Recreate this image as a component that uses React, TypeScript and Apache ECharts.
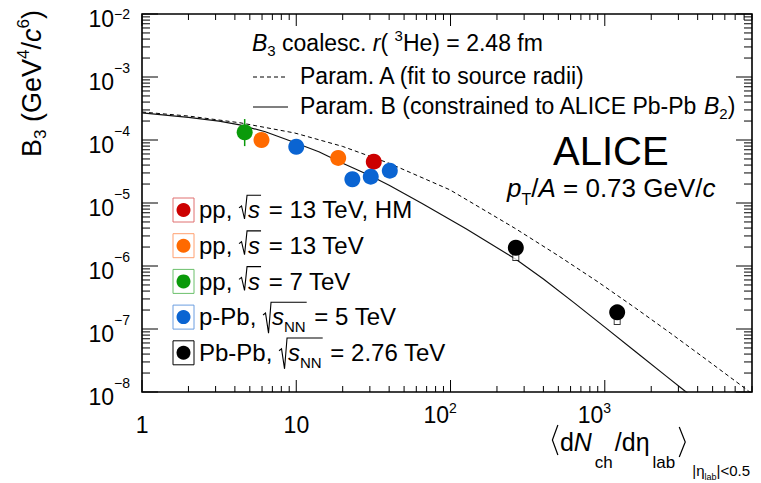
import React, { useEffect, useRef } from 'react';
import * as echarts from 'echarts';

const FONT = '"Liberation Sans", Arial, Helvetica, sans-serif';

const X_MIN = 1;
const X_MAX = 9000;
const Y_MIN = 1e-8;
const Y_MAX = 1e-2;

// tick labels
const xTickValues = [1, 10, 100, 1000];
const xTickBase = ['1', '10', '10', '10'];
const xTickSup = ['', '', '2', '3'];
const yTickExponents = [-8, -7, -6, -5, -4, -3, -2];
const minorMultipliers = [1, 2, 3, 4, 5, 6, 7, 8, 9];

// data points [dN/deta, B3]
const ppHM = [[31.8, 4.53e-5]];
const pp13 = [[5.95, 1.0e-4], [18.7, 5.2e-5]];
const pp7 = [[4.63, 1.33e-4]];
const pp7Err = [[4.63, 8.0e-5, 2.15e-4]];
const pPb = [[10.0, 7.8e-5], [23.1, 2.38e-5], [30.4, 2.62e-5], [40.4, 3.26e-5]];
const PbPb = [[265, 1.95e-6], [1203, 1.84e-7]];
const PbPbSyst = [[265, 1.39e-6], [1203, 1.34e-7]];

// model curves
const paramA = [
  [1, 2.78e-4], [2, 2.4e-4], [4.3, 1.88e-4], [9.8, 1.29e-4], [20, 7.9e-5], [40, 4.27e-5],
  [99, 1.62e-5], [261, 3.98e-6], [501, 1.45e-6], [902, 5.6e-7], [1585, 2.14e-7],
  [2680, 8.5e-8], [4467, 3.39e-8], [8090, 1.15e-8], [9000, 9.3e-9],
];
const paramB = [
  [1, 2.69e-4], [2, 2.29e-4], [3.16, 2.0e-4], [4.3, 1.74e-4], [6.3, 1.35e-4], [9, 9.8e-5],
  [14, 6.5e-5], [20, 4.27e-5], [30, 2.73e-5], [40, 1.91e-5], [65, 9.9e-6], [126, 3.91e-6],
  [261, 1.31e-6], [400, 6.22e-7], [631, 2.62e-7], [1000, 1.07e-7], [1585, 4.35e-8],
  [2512, 1.77e-8], [3400, 9.8e-9], [3600, 8.8e-9],
];

const legendPrefix = ['pp, ', 'pp, ', 'pp, ', 'p-Pb, ', 'Pb-Pb, '];
const legendSub = ['', '', '', 'NN', 'NN'];
const legendSuffix = [' = 13 TeV, HM', ' = 13 TeV', ' = 7 TeV', ' = 5 TeV', ' = 2.76 TeV'];
const seriesColors = ['#cc0000', '#ff6a00', '#0a9a0a', '#0a64d2', '#000000'];
const boxColors = ['#e07070', '#ffa070', '#6cc06c', '#6c9ee0', '#000000'];

type Seg = {
  t?: string; s?: number; bo?: number; i?: boolean;
  rad?: Seg[]; radDrop?: number; br?: 'l' | 'r'; gap?: number;
};

let ctx: CanvasRenderingContext2D | null = null;
function measure(t: string, size: number, italic?: boolean) {
  if (!ctx) ctx = document.createElement('canvas').getContext('2d');
  ctx!.font = `${italic ? 'italic ' : ''}${size}px ${FONT}`;
  return ctx!.measureText(t).width;
}

function textEl(t: string, x: number, y: number, size: number, italic: boolean | undefined, color: string) {
  return {
    type: 'text', x, y, silent: true,
    style: {
      text: t, font: `${italic ? 'italic ' : ''}${size}px ${FONT}`, fill: color,
      textAlign: 'left', textVerticalAlign: 'middle', align: 'left', verticalAlign: 'middle',
    },
  };
}

function build(segs: Seg[], x0: number, B: number, base: number, color: string, out: any[]): number {
  let x = x0;
  for (const sg of segs) {
    if (sg.gap) { x += sg.gap; continue; }
    if (sg.br === 'l') {
      out.push({ type: 'polyline', silent: true, shape: { points: [[x + 6, B - 26], [x + 0.5, B - 11], [x + 6, B + 4]] }, style: { stroke: color, lineWidth: 1.2, fill: null } });
      x += 8; continue;
    }
    if (sg.br === 'r') {
      out.push({ type: 'polyline', silent: true, shape: { points: [[x + 1, B - 24], [x + 7, B - 9], [x + 1, B + 6]] }, style: { stroke: color, lineWidth: 1.2, fill: null } });
      x += 8; continue;
    }
    if (sg.rad) {
      const sx = x;
      x += 9;
      x = build(sg.rad, x, B, base, color, out);
      const top = B - 0.95 * base;
      out.push({
        type: 'polyline', silent: true,
        shape: { points: [[sx, B - 0.42 * base], [sx + 2.5, B - 0.5 * base], [sx + 5.5, B + (sg.radDrop || 1)], [sx + 8, top], [x + 1, top]] },
        style: { stroke: color, lineWidth: 1.1, fill: null },
      });
      x += 2;
      continue;
    }
    const size = sg.s || base;
    out.push(textEl(sg.t || '', x, B + (sg.bo || 0) - 0.35 * size, size, sg.i, color));
    x += measure(sg.t || '', size, sg.i);
  }
  return x;
}

function buildGraphics() {
  const g: any[] = [];
  // header block
  build([{ t: 'B', i: true }, { t: '3', s: 15, bo: 5 }, { t: ' coalesc. ' }, { t: 'r', i: true }, { t: '( ' }, { t: '3', s: 15, bo: -10 }, { t: 'He) = 2.48 fm' }], 252, 51, 23, '#000', g);
  g.push({ type: 'line', silent: true, shape: { x1: 253, y1: 77, x2: 288, y2: 77 }, style: { stroke: '#000', lineWidth: 1, lineDash: [4, 3] } });
  build([{ t: 'Param. A (fit to source radii)' }], 300, 84, 23, '#000', g);
  g.push({ type: 'line', silent: true, shape: { x1: 253, y1: 107, x2: 288, y2: 107 }, style: { stroke: '#000', lineWidth: 1.2 } });
  build([{ t: 'Param. B (constrained to ALICE Pb-Pb ' }, { t: 'B', i: true }, { t: '2', s: 15, bo: 5 }, { t: ')' }], 300, 114, 23, '#000', g);
  build([{ t: 'ALICE' }], 553, 165, 40, '#000', g);
  build([{ t: 'p', i: true }, { t: 'T', s: 16, bo: 8 }, { t: '/' }, { t: 'A', i: true }, { t: ' = 0.73 GeV/' }, { t: 'c', i: true }], 507, 197, 26, '#000', g);

  // legend
  for (let k = 0; k < legendPrefix.length; k++) {
    const y = 210 + k * 35.7;
    g.push({ type: 'rect', silent: true, shape: { x: 173, y: y - 12, width: 21, height: 24 }, style: { stroke: boxColors[k], fill: null, lineWidth: 1 } });
    g.push({ type: 'circle', silent: true, shape: { cx: 183.5, cy: y, r: 7 }, style: { fill: seriesColors[k] } });
    const inner: Seg[] = [{ t: 's', i: true }];
    if (legendSub[k]) inner.push({ t: legendSub[k], s: 15, bo: 7 });
    build([{ t: legendPrefix[k] }, { rad: inner, radDrop: legendSub[k] ? 8 : 1 }, { t: legendSuffix[k] }], 199, y + 8, 24, '#000', g);
  }

  // y title (rotated)
  const yt: any[] = [];
  build([{ t: 'B' }, { t: '3', s: 17, bo: 5 }, { t: ' (GeV' }, { t: '4', s: 17, bo: -12 }, { t: '/' }, { t: 'c', i: true }, { t: '6', s: 17, bo: -12 }, { t: ')' }], 0, 0, 27, '#000', yt);
  g.push({ type: 'group', x: 41, y: 157, rotation: Math.PI / 2, children: yt });

  // x title (right aligned)
  const xs: Seg[] = [
    { br: 'l' }, { t: 'd' }, { t: 'N', i: true }, { gap: 3 }, { t: 'ch', s: 17, bo: 17 }, { gap: 2 }, { t: '/d' }, { t: 'η' }, { gap: 3 },
    { t: 'lab', s: 17, bo: 17 }, { gap: 3 }, { br: 'r' }, { gap: 6 }, { t: '|η', s: 15, bo: 25 }, { t: 'lab', s: 9, bo: 29 }, { t: '|<0.5', s: 15, bo: 25 },
  ];
  const w = build(xs, 0, 451, 25, '#000', []);
  build(xs, 750 - w, 451, 25, '#000', g);
  return g;
}

function tickData() {
  const d: number[][] = [];
  for (const dec of xTickValues) {
    for (const m of minorMultipliers) {
      const v = dec * m;
      if (v <= X_MAX) d.push([v, 1e-5, m === 1 ? 1 : 0]);
    }
  }
  for (const e of yTickExponents) {
    for (const m of minorMultipliers) {
      const v = Math.pow(10, e) * m;
      if (v <= Y_MAX * 1.0001) d.push([10, v, m === 1 ? 3 : 2]);
    }
  }
  return d;
}

export default function App() {
  const ref = useRef<HTMLDivElement>(null);
  useEffect(() => {
    if (!ref.current) return;
    const chart = echarts.init(ref.current, null, { renderer: 'svg' });
    const labelBase = { fontFamily: FONT, color: '#000' };
    const option: any = {
      animation: false,
      backgroundColor: '#fff',
      grid: { left: 142, top: 14, width: 610, height: 378, show: true, borderColor: '#000', borderWidth: 1.6, backgroundColor: 'transparent', containLabel: false, outerBoundsMode: 'none' },
      xAxis: {
        type: 'log', logBase: 10, min: X_MIN, max: X_MAX,
        axisLine: { show: false }, axisTick: { show: false }, splitLine: { show: false }, minorTick: { show: false },
        axisLabel: {
          margin: 8.5,
          formatter: (v: number) => {
            const k = xTickValues.findIndex((t) => Math.abs(Math.log10(t) - Math.log10(v)) < 1e-6);
            if (k < 0) return '';
            return xTickSup[k] ? `{h| }{b|${xTickBase[k]}}{s|${xTickSup[k]}}` : `{h2| }{p|${xTickBase[k]}}`;
          },
          rich: {
            h: { fontSize: 1, lineHeight: 26 },
            h2: { fontSize: 1, lineHeight: 36 },
            b: { ...labelBase, fontSize: 23, lineHeight: 23, verticalAlign: 'bottom' },
            p: { ...labelBase, fontSize: 23, lineHeight: 23, verticalAlign: 'bottom' },
            s: { ...labelBase, fontSize: 14, lineHeight: 14, verticalAlign: 'top', padding: [0, 21, 0, 0] },
          },
        },
      },
      yAxis: {
        type: 'log', logBase: 10, min: Y_MIN, max: Y_MAX,
        axisLine: { show: false }, axisTick: { show: false }, splitLine: { show: false }, minorTick: { show: false },
        axisLabel: {
          margin: 12,
          formatter: (v: number) => {
            const e = Math.round(Math.log10(v));
            if (!yTickExponents.includes(e)) return '';
            return e === -2 ? `{h| }{b|10}{t|−${-e}}` : `{h| }{b|10}{s|−${-e}}`;
          },
          rich: {
            h: { fontSize: 1, lineHeight: 32 },
            b: { ...labelBase, fontSize: 23, lineHeight: 23, verticalAlign: 'bottom' },
            s: { ...labelBase, fontSize: 14, lineHeight: 14, verticalAlign: 'top' },
            t: { ...labelBase, fontSize: 14, lineHeight: 14, verticalAlign: 'top', padding: [9, 0, 0, 0] },
          },
        },
      },
      graphic: buildGraphics(),
      series: [
        { name: 'Param. A', type: 'line', data: paramA, showSymbol: false, symbol: 'none', silent: true, z: 2, lineStyle: { color: '#000', width: 1, type: [4, 3] } },
        { name: 'Param. B', type: 'line', data: paramB, showSymbol: false, symbol: 'none', silent: true, z: 2, lineStyle: { color: '#111', width: 1.2 } },
        {
          name: 'ticks', type: 'custom', data: tickData(), silent: true, z: 3, clip: false,
          renderItem: (params: any, api: any) => {
            const cs = params.coordSys;
            const kind = api.value(2);
            const p = api.coord([api.value(0), api.value(1)]);
            let lines: number[][];
            if (kind < 2) {
              const L = kind === 1 ? 12 : 6;
              const yb = cs.y + cs.height;
              lines = [[p[0], yb, p[0], yb - L], [p[0], cs.y, p[0], cs.y + L]];
            } else {
              const L = kind === 3 ? 16 : 8;
              const xr = cs.x + cs.width;
              lines = [[cs.x, p[1], cs.x + L, p[1]], [xr, p[1], xr - L, p[1]]];
            }
            return {
              type: 'group',
              children: lines.map((l) => ({ type: 'line', shape: { x1: l[0], y1: l[1], x2: l[2], y2: l[3] }, style: { stroke: '#000', lineWidth: 1 } })),
            };
          },
        },
        {
          name: 'pp 7 TeV err', type: 'custom', data: pp7Err, silent: true, z: 4,
          renderItem: (_p: any, api: any) => {
            const a = api.coord([api.value(0), api.value(1)]);
            const b = api.coord([api.value(0), api.value(2)]);
            return { type: 'line', shape: { x1: a[0], y1: a[1], x2: b[0], y2: b[1] }, style: { stroke: seriesColors[2], lineWidth: 1.5 } };
          },
        },
        { name: 'Pb-Pb syst', type: 'scatter', data: PbPbSyst, symbol: 'rect', symbolSize: [6, 7], z: 4, silent: true, itemStyle: { color: '#fff', borderColor: '#000', borderWidth: 1 } },
        { name: 'pp 13 TeV HM', type: 'scatter', data: ppHM, symbol: 'circle', symbolSize: 16, z: 5, itemStyle: { color: seriesColors[0], opacity: 1 } },
        { name: 'pp 13 TeV', type: 'scatter', data: pp13, symbol: 'circle', symbolSize: 16, z: 5, itemStyle: { color: seriesColors[1], opacity: 1 } },
        { name: 'pp 7 TeV', type: 'scatter', data: pp7, symbol: 'circle', symbolSize: 16, z: 5, itemStyle: { color: seriesColors[2], opacity: 1 } },
        { name: 'p-Pb 5 TeV', type: 'scatter', data: pPb, symbol: 'circle', symbolSize: 16, z: 5, itemStyle: { color: seriesColors[3], opacity: 1 } },
        { name: 'Pb-Pb 2.76 TeV', type: 'scatter', data: PbPb, symbol: 'circle', symbolSize: 16, z: 5, itemStyle: { color: seriesColors[4], opacity: 1 } },
      ],
    };
    chart.setOption(option);
    return () => chart.dispose();
  }, []);
  return <div ref={ref} style={{ position: 'fixed', left: 0, top: 0, width: 761, height: 483, background: '#fff' }} />;
}
